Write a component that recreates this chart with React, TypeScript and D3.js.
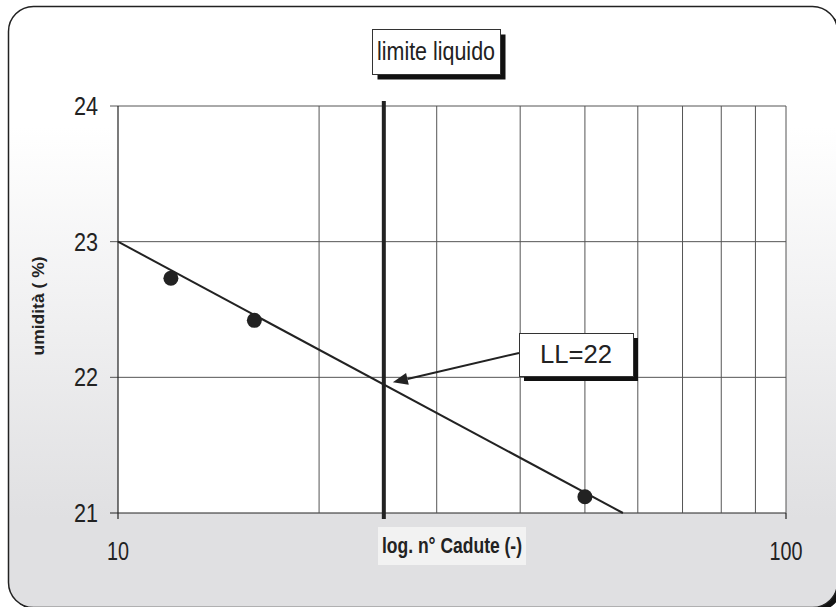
import React from "react";
import * as d3 from "d3";

// ---- data ----
const dropsN = [12, 16, 50];
const moisture = [22.73, 22.42, 21.12];
const trendN = [10, 57];
const trendU = [23.0, 21.0];
const liquidLimitN = 25;
const liquidLimitValue = 22;
const yTicks = [21, 22, 23, 24];
const xGrid = [20, 30, 40, 50, 60, 70, 80, 90, 100];
const xTickLabels = [10, 100];
const titleText = "limite liquido";
const xLabel = "log. n° Cadute (-)";
const yLabel = "umidità ( %)";

const W = 836;
const H = 607;
const FONT = "'Liberation Sans', Arial, sans-serif";
const INK = "#222";

export default function App() {
  const x = d3.scaleLog().domain([10, 100]).range([118, 786]);
  const y = d3.scaleLinear().domain([21, 24]).range([513, 106]);

  const trendPath = d3
    .line<number>()
    .x((_, i) => x(trendN[i]))
    .y((d) => y(d))(trendU) as string;

  const llX = x(liquidLimitN);
  const llY = y(liquidLimitValue);

  // arrow from LL box to intersection
  const ax0 = 519, ay0 = 353;
  const ax1 = llX + 9, ay1 = llY + 5;
  const ang = Math.atan2(ay1 - ay0, ax1 - ax0);
  const hl = 15, hw = 6;
  const bx = ax1 - hl * Math.cos(ang), by = ay1 - hl * Math.sin(ang);
  const head = [
    [ax1, ay1],
    [bx + hw * Math.sin(ang), by - hw * Math.cos(ang)],
    [bx - hw * Math.sin(ang), by + hw * Math.cos(ang)],
  ];

  return (
    <svg
      width={W}
      height={H}
      style={{ position: "fixed", left: 0, top: 0, display: "block" }}
      fontFamily={FONT}
    >
      <defs>
        <linearGradient id="bg" x1="0" y1="0" x2="0" y2="1">
          <stop offset="0" stopColor="#ffffff" />
          <stop offset="0.2" stopColor="#ffffff" />
          <stop offset="0.85" stopColor="#e0e0e2" />
          <stop offset="1" stopColor="#e0e0e2" />
        </linearGradient>
      </defs>
      <rect x={0} y={0} width={W} height={H} fill="#ffffff" />
      {/* frame shadow + frame */}
      <rect x={13} y={11} width={829} height={600} rx={25} fill="#111" />
      <rect
        x={8.5}
        y={6.5}
        width={829}
        height={601}
        rx={25}
        fill="url(#bg)"
        stroke={INK}
        strokeWidth={1.5}
      />

      {/* plot area */}
      <rect
        x={x(10)}
        y={y(24)}
        width={x(100) - x(10)}
        height={y(21) - y(24)}
        fill="#fff"
      />
      {/* horizontal grid */}
      {yTicks.map((t) => (
        <line
          key={"h" + t}
          x1={x(10) - 8}
          x2={x(100)}
          y1={y(t)}
          y2={y(t)}
          stroke={t === 21 ? INK : "#555"}
          strokeWidth={1}
        />
      ))}
      {/* vertical grid */}
      {xGrid.map((t) => (
        <line
          key={"v" + t}
          x1={x(t)}
          x2={x(t)}
          y1={y(24)}
          y2={y(21)}
          stroke="#555"
          strokeWidth={1}
        />
      ))}
      {/* axes */}
      <line x1={x(10)} x2={x(10)} y1={y(24)} y2={y(21) + 6} stroke={INK} strokeWidth={1.2} />
      <line x1={x(100)} x2={x(100)} y1={y(21)} y2={y(21) + 6} stroke={INK} strokeWidth={1.2} />

      {/* y tick labels */}
      {yTicks.map((t) => (
        <text
          key={"yl" + t}
          x={98}
          y={y(t) + 9}
          textAnchor="end"
          fontSize={26}
          fill={INK}
          textLength={24}
          lengthAdjust="spacingAndGlyphs"
        >
          {t}
        </text>
      ))}
      {/* x tick labels */}
      {xTickLabels.map((t) => (
        <text
          key={"xl" + t}
          x={x(t)}
          y={560}
          textAnchor="middle"
          fontSize={26}
          fill={INK}
          textLength={String(t).length * 11}
          lengthAdjust="spacingAndGlyphs"
        >
          {t}
        </text>
      ))}

      {/* x axis label */}
      <rect x={378} y={527} width={148} height={38} fill="#f2f2f2" />
      <text
        x={452}
        y={553}
        textAnchor="middle"
        fontSize={22}
        fontWeight="bold"
        fill={INK}
        textLength={140}
        lengthAdjust="spacingAndGlyphs"
      >
        {xLabel}
      </text>

      {/* y axis label */}
      <text
        transform={`translate(44,306) rotate(-90)`}
        textAnchor="middle"
        fontSize={17}
        fontWeight="bold"
        fill={INK}
        textLength={99}
        lengthAdjust="spacingAndGlyphs"
      >
        {yLabel}
      </text>

      {/* liquid limit vertical line */}
      <line
        x1={llX}
        x2={llX}
        y1={101}
        y2={y(21) + 6}
        stroke={INK}
        strokeWidth={4}
      />

      {/* trend line */}
      <path d={trendPath} fill="none" stroke={INK} strokeWidth={2} />

      {/* points */}
      {dropsN.map((n, i) => (
        <circle key={"p" + i} cx={x(n)} cy={y(moisture[i])} r={7.5} fill={INK} />
      ))}

      {/* arrow */}
      <line x1={ax0} y1={ay0} x2={bx} y2={by} stroke={INK} strokeWidth={2} />
      <polygon points={head.map((p) => p.join(",")).join(" ")} fill={INK} />

      {/* LL box */}
      <rect x={524} y={338} width={114} height={43} fill="#111" />
      <rect x={519.5} y={333.5} width={114} height={43} fill="#fff" stroke="#333" strokeWidth={1} />
      <text
        x={576}
        y={363}
        textAnchor="middle"
        fontSize={26}
        fill={INK}
        textLength={72}
        lengthAdjust="spacingAndGlyphs"
      >
        {`LL=${liquidLimitValue}`}
      </text>

      {/* title box */}
      <rect x={377.5} y={34.5} width={128} height={45} fill="#111" />
      <rect x={372.5} y={29.5} width={128} height={45} fill="#fff" stroke="#333" strokeWidth={1} />
      <text
        x={436}
        y={60}
        textAnchor="middle"
        fontSize={26}
        fill={INK}
        textLength={118}
        lengthAdjust="spacingAndGlyphs"
      >
        {titleText}
      </text>
    </svg>
  );
}
